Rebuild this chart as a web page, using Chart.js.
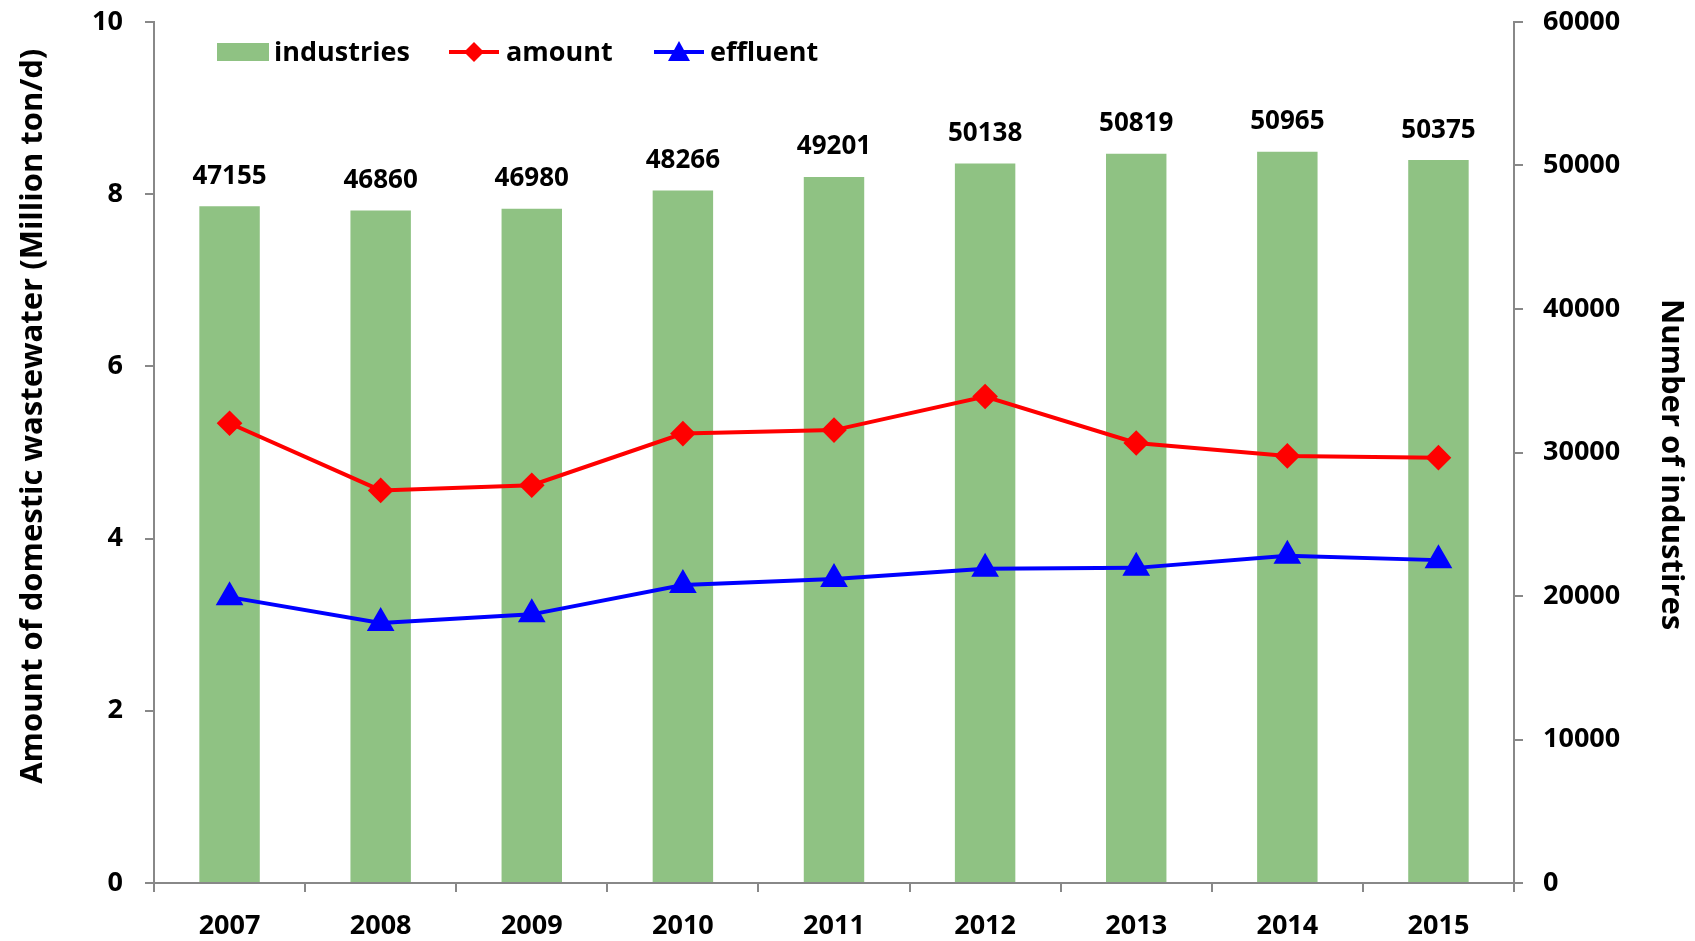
<!DOCTYPE html>
<html>
<head>
<meta charset="utf-8">
<script src="https://cdn.jsdelivr.net/npm/chart.js@4.4.1/dist/chart.umd.min.js"></script>
<style>
body { margin: 0; background: #fff; }
#wrap { position: relative; width: 1695px; height: 941px; }
.lg { position: absolute; font: bold 27px "Open Sans", sans-serif; color: #000; line-height: 1; }
</style>
</head>
<body>
<div id="wrap">
  <canvas id="chart" width="1695" height="941"></canvas>
  <div class="lg" style="left:217px;top:43px;width:52px;height:18px;background:#8FC283"></div>
  <div class="lg" style="left:274px;top:37px">industries</div>
  <svg class="lg" style="left:449px;top:40px" width="50" height="24"><line x1="0" y1="12" x2="50" y2="12" stroke="#FF0000" stroke-width="4"/><polygon points="25,2 35,12 25,22 15,12" fill="#FF0000"/></svg>
  <div class="lg" style="left:506px;top:37px">amount</div>
  <svg class="lg" style="left:654px;top:40px" width="50" height="24"><line x1="0" y1="12" x2="50" y2="12" stroke="#0000FF" stroke-width="4"/><polygon points="25,1 36,21 14,21" fill="#0000FF"/></svg>
  <div class="lg" style="left:710px;top:37px">effluent</div>
</div>
<script>
const years = ['2007', '2008', '2009', '2010', '2011', '2012', '2013', '2014', '2015'];
const industries = [47155, 46860, 46980, 48266, 49201, 50138, 50819, 50965, 50375];
const amount = [5.34, 4.56, 4.62, 5.22, 5.26, 5.65, 5.11, 4.96, 4.94];
const effluent = [3.32, 3.02, 3.12, 3.46, 3.53, 3.65, 3.66, 3.80, 3.75];

const FONT = '"Open Sans", sans-serif';
const AXIS = '#888888';
const tickFont = { family: FONT, size: 27, weight: 'bold' };
const titleFont = { family: FONT, size: 31, weight: 'bold' };

// numbers over the bars
const barLabels = {
    id: 'barLabels',
    afterDatasetsDraw(chart) {
        const ctx = chart.ctx;
        const meta = chart.getDatasetMeta(2);
        ctx.save();
        ctx.font = 'bold 26px ' + FONT;
        ctx.fillStyle = '#000';
        ctx.textAlign = 'center';
        ctx.textBaseline = 'middle';
        meta.data.forEach((bar, i) => ctx.fillText(industries[i], bar.x, bar.y - 30));
        ctx.restore();
    }
};

const gridOpts = { drawOnChartArea: false, drawTicks: true, tickLength: 9, color: AXIS, lineWidth: 2 };

// fixed axis boxes so the plot area lands where the original one is
const fitY = w => s => { s.width = w; s.paddingTop = 0; s.paddingBottom = 0; };

new Chart(document.getElementById('chart').getContext('2d'), {
    data: {
        labels: years,
        datasets: [
            { type: 'line', label: 'amount', data: amount, yAxisID: 'y', order: 1,
              borderColor: '#FF0000', backgroundColor: '#FF0000', borderWidth: 4,
              pointStyle: 'rectRot', pointRadius: 10, pointHoverRadius: 10, tension: 0 },
            { type: 'line', label: 'effluent', data: effluent, yAxisID: 'y', order: 2,
              borderColor: '#0000FF', backgroundColor: '#0000FF', borderWidth: 4,
              pointStyle: 'triangle', pointRadius: 12, pointHoverRadius: 12, tension: 0 },
            { type: 'bar', label: 'industries', data: industries, yAxisID: 'y1', order: 3,
              backgroundColor: '#8FC283', barPercentage: 0.4, categoryPercentage: 1 }
        ]
    },
    options: {
        responsive: false,
        animation: false,
        layout: { padding: { top: 22, left: 0, right: 0, bottom: 0 } },
        plugins: { legend: { display: false }, tooltip: { enabled: false } },
        scales: {
            x: {
                offset: true,
                grid: { ...gridOpts, offset: true },
                border: { color: AXIS, width: 2 },
                ticks: { color: '#000', font: tickFont, padding: 18 },
                afterFit: s => { s.height = 58; }
            },
            y: {
                position: 'left', min: 0, max: 10,
                grid: gridOpts,
                border: { color: AXIS, width: 2 },
                ticks: { stepSize: 2, color: '#000', font: tickFont, padding: 22 },
                title: { display: true, text: '         Amount of domestic wastewater (Million ton/d)', color: '#000',
                         font: titleFont, padding: { top: 15, bottom: 0 } },
                afterFit: fitY(154)
            },
            y1: {
                position: 'right', min: 0, max: 60000,
                grid: gridOpts,
                border: { color: AXIS, width: 2 },
                ticks: { stepSize: 10000, color: '#000', font: tickFont, padding: 20,
                         callback: v => String(v) },
                title: { display: true, text: '   Number of industires', color: '#000',
                         font: titleFont, padding: { top: 6, bottom: 0 } },
                afterFit: fitY(181)
            }
        }
    },
    plugins: [barLabels]
});
</script>
</body>
</html>
